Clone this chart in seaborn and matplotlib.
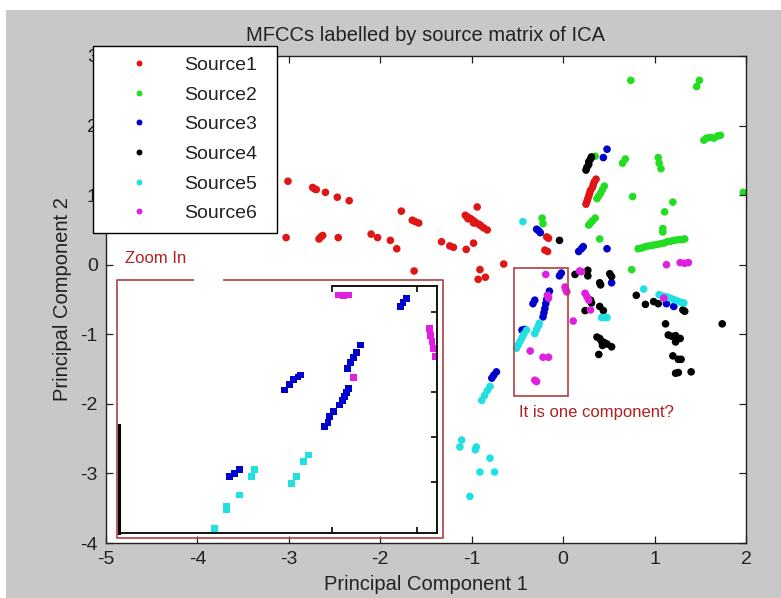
import numpy as np
import pandas as pd
import matplotlib
matplotlib.use("Agg")
import matplotlib.pyplot as plt
from matplotlib.patches import Rectangle
import seaborn as sns

# ---- data: first two principal components of the MFCC frames, grouped by ICA source ----
source_names = ["Source1", "Source2", "Source3", "Source4", "Source5", "Source6"]
source_colors = ["#e01515", "#22dd22", "#0000cc", "#000000", "#22e0e0", "#e020e0"]

source1_pts = [
    (-3.01, 1.20), (-2.74, 1.11), (-2.72, 1.09), (-2.70, 1.08), (-2.60, 1.04), (-2.47, 0.97),
    (-2.34, 0.92), (-1.77, 0.77), (-1.65, 0.64), (-1.62, 0.62), (-1.58, 0.60), (-3.03, 0.39),
    (-2.67, 0.37), (-2.65, 0.40), (-2.63, 0.42), (-2.46, 0.39), (-2.10, 0.44), (-2.03, 0.39),
    (-1.89, 0.35), (-1.82, 0.23), (-1.63, -0.09), (-0.94, 0.83), (-1.07, 0.71), (-1.05, 0.69),
    (-1.03, 0.67), (-1.04, 0.66), (-1.01, 0.66), (-0.99, 0.64), (-0.97, 0.62), (-0.98, 0.60),
    (-0.95, 0.60), (-0.92, 0.58), (-0.90, 0.56), (-0.87, 0.53), (-0.83, 0.50), (-1.33, 0.33),
    (-1.24, 0.27), (-1.20, 0.25), (-0.98, 0.31), (-1.06, 0.22), (-0.65, 0.01), (-0.91, -0.07),
    (-0.93, -0.21), (-0.85, -0.18), (-0.18, 0.40), (-0.16, 0.38), (-0.20, 0.21), (-0.17, 0.19),
    (0.25, 0.87), (0.26, 0.91), (0.27, 0.95), (0.28, 0.99), (0.29, 1.03), (0.30, 1.07),
    (0.32, 1.11), (0.33, 1.15), (0.34, 1.19), (0.36, 1.23),
]
source2_pts = [
    (0.74, 2.65), (1.49, 2.65), (1.46, 2.56), (1.54, 1.79), (1.57, 1.82), (1.61, 1.83),
    (1.65, 1.82), (1.69, 1.85), (1.72, 1.86), (1.97, 1.04), (0.35, 1.56), (0.68, 1.52),
    (0.65, 1.46), (1.04, 1.54), (1.05, 1.46), (1.07, 1.38), (0.37, 0.95), (0.39, 0.99),
    (0.41, 1.03), (0.43, 1.08), (0.45, 1.13), (0.76, 0.98), (1.20, 0.90), (1.11, 0.76),
    (0.28, 0.57), (0.30, 0.60), (0.32, 0.63), (0.35, 0.67), (-0.23, 0.67), (-0.22, 0.59),
    (0.40, 0.37), (1.09, 0.47), (1.09, 0.52), (0.82, 0.23), (0.86, 0.24), (0.90, 0.26),
    (0.94, 0.27), (0.98, 0.28), (1.02, 0.29), (1.06, 0.30), (1.10, 0.31), (1.14, 0.33),
    (1.18, 0.34), (1.22, 0.35), (1.26, 0.36), (1.30, 0.36), (1.33, 0.37), (0.75, -0.07),
]
source3_pts = [
    (0.48, 1.66), (0.44, 1.54), (-0.29, 0.51), (-0.27, 0.49), (-0.25, 0.46), (0.17, 0.19),
    (0.20, 0.23), (0.22, 0.26), (0.48, 0.23), (-0.04, -0.16), (-0.02, -0.12), (-0.22, -0.75),
    (-0.21, -0.69), (-0.20, -0.63), (-0.19, -0.56), (-0.18, -0.50), (-0.17, -0.44),
    (-0.15, -0.38), (-0.31, -0.51), (-0.33, -0.56), (-0.45, -0.94), (-0.42, -0.93),
    (0.53, -0.26), (1.13, -0.56), (1.21, -0.60), (-0.73, -1.54), (-0.76, -1.59), (-0.78, -1.63),
]
source4_pts = [
    (0.25, 1.36), (0.26, 1.40), (0.28, 1.44), (0.28, 1.48), (0.30, 1.52), (0.31, 1.55),
    (-0.04, 0.35), (0.27, -0.08), (0.27, -0.16), (0.13, -0.14), (0.51, -0.13), (0.53, -0.17),
    (0.40, -0.26), (0.41, -0.29), (0.30, -0.51), (0.31, -0.55), (0.24, -0.66), (0.40, -0.60),
    (0.44, -0.66), (0.37, -1.04), (0.40, -1.06), (0.42, -1.10), (0.45, -1.12), (0.48, -1.14),
    (0.53, -1.18), (0.43, -1.16), (0.39, -1.29), (0.80, -0.44), (0.90, -0.57), (0.99, -0.53),
    (1.04, -0.56), (1.31, -0.65), (1.33, -0.67), (1.74, -0.85), (1.12, -0.85), (1.15, -1.01),
    (1.19, -1.03), (1.23, -1.02), (1.28, -1.06), (1.23, -1.11), (1.20, -1.31), (1.26, -1.36),
    (1.29, -1.36), (1.23, -1.56), (1.26, -1.55), (1.40, -1.54),
]
source5_pts = [
    (-0.44, 0.62), (0.88, -0.35), (1.05, -0.43), (1.09, -0.45), (1.13, -0.46), (1.17, -0.48),
    (1.21, -0.50), (1.25, -0.52), (1.29, -0.54), (1.32, -0.55), (0.42, -0.76), (0.45, -0.76),
    (0.48, -0.76), (-0.51, -1.20), (-0.49, -1.15), (-0.47, -1.10), (-0.45, -1.05),
    (-0.43, -1.00), (-0.40, -0.94), (-0.31, -0.99), (-0.29, -0.93), (-0.27, -0.88),
    (-0.26, -0.84), (-0.89, -1.95), (-0.86, -1.88), (-0.83, -1.81), (-0.80, -1.75),
    (-1.11, -2.52), (-1.13, -2.62), (-0.96, -2.66), (-0.95, -2.62), (-0.80, -2.78),
    (-0.91, -2.98), (-0.75, -2.98), (-1.02, -3.33),
]
source6_pts = [
    (1.13, 0.00), (1.28, 0.03), (1.33, 0.02), (1.37, 0.03), (-0.19, -0.14), (0.18, -0.09),
    (0.20, -0.10), (0.02, -0.32), (0.03, -0.36), (0.04, -0.39), (-0.16, -0.48), (-0.17, -0.44),
    (0.24, -0.41), (0.28, -0.51), (0.26, -0.46), (0.30, -0.65), (0.11, -0.81), (-0.36, -1.24),
    (-0.22, -1.33), (-0.16, -1.33), (-0.31, -1.66), (-0.29, -1.68), (1.10, -0.48),
]

# zoomed view of the boxed region
zoom_source3_pts = [
    (-0.001, -0.209), (0.005, -0.180), (0.013, -0.145), (-0.117, -0.683), (-0.110, -0.640),
    (-0.104, -0.600), (-0.097, -0.560), (-0.088, -0.504), (-0.255, -0.850), (-0.245, -0.810),
    (-0.235, -0.770), (-0.226, -0.750), (-0.220, -0.735), (-0.134, -0.965), (-0.128, -0.930),
    (-0.124, -0.900), (-0.120, -0.870), (-0.115, -0.837), (-0.156, -1.055), (-0.148, -1.017),
    (-0.167, -1.132), (-0.160, -1.100), (-0.376, -1.517), (-0.365, -1.490), (-0.354, -1.460),
]
zoom_source5_pts = [
    (-0.203, -1.350), (-0.214, -1.402), (-0.229, -1.517), (-0.240, -1.568), (-0.328, -1.517),
    (-0.321, -1.460), (-0.355, -1.658), (-0.384, -1.773), (-0.383, -1.748), (-0.409, -1.914),
]
zoom_source6_pts = [
    (-0.137, -0.119), (-0.126, -0.120), (-0.115, -0.119), (0.063, -0.375), (0.066, -0.430),
    (0.069, -0.480), (0.072, -0.530), (0.076, -0.594), (-0.104, -0.752),
]


def to_frame(groups):
    rows = []
    for name, pts in groups:
        for x, y in pts:
            rows.append({"pc1": x, "pc2": y, "source": name})
    return pd.DataFrame(rows)


df = to_frame(zip(source_names, [source1_pts, source2_pts, source3_pts,
                                 source4_pts, source5_pts, source6_pts]))
df_zoom = to_frame([("Source3", zoom_source3_pts), ("Source5", zoom_source5_pts),
                    ("Source6", zoom_source6_pts)])
palette = dict(zip(source_names, source_colors))

plt.rcParams["font.family"] = ["Liberation Sans", "DejaVu Sans"]
plt.rcParams["axes.unicode_minus"] = False
text_col = "#222222"
note_col = "#b02020"

W, H = 781, 598
fig = plt.figure(figsize=(W / 100, H / 100), dpi=100, facecolor="white")
fig.patches.append(Rectangle((6 / W, 0), 1, (H - 10) / H, transform=fig.transFigure,
                             facecolor="#c8c8c8", edgecolor="none", zorder=-10))

ax = fig.add_axes([106 / W, 1 - 543 / H, 640 / W, 487 / H])
ax.set_facecolor("white")
sns.scatterplot(data=df, x="pc1", y="pc2", hue="source", hue_order=source_names,
                palette=palette, s=30, linewidth=0, ax=ax, legend=True)

ax.set_xlim(-5, 2)
ax.set_ylim(-4, 3)
ax.set_xticks(range(-5, 3))
ax.set_yticks(range(-4, 4))
ax.tick_params(direction="in", top=True, right=True, length=5, width=0.9,
               color=text_col, labelcolor=text_col, labelsize=14, pad=6)
for sp in ax.spines.values():
    sp.set_linewidth(1.0)
    sp.set_color(text_col)
ax.set_xlabel("Principal Component 1", fontsize=14.5, color=text_col, labelpad=5)
ax.set_ylabel("Principal Component 2", fontsize=14.5, color=text_col, labelpad=6)
ax.set_title("MFCCs labelled by source matrix of ICA", fontsize=14.5, color=text_col, pad=11)

# legend in a plain black box
old = ax.get_legend()
handles = old.legend_handles
labels = [t.get_text() for t in old.get_texts()]
old.remove()
leg = ax.legend(handles, labels, loc="upper left",
                bbox_to_anchor=(93 / W, 1 - 233 / H, 184 / W, 187 / H),
                bbox_transform=fig.transFigure, mode="expand",
                fontsize=14, frameon=True, fancybox=False, framealpha=1,
                borderpad=0.53, labelspacing=0.62, handlelength=3.7,
                handletextpad=0.45, borderaxespad=0, markerscale=0.78)
leg.get_frame().set_edgecolor("black")
leg.get_frame().set_linewidth(1.0)
for t in leg.get_texts():
    t.set_color(text_col)

# annotations
ax.text(-4.79, 0.09, "Zoom In", color=note_col, fontsize=12, ha="left", va="center")
ax.text(-0.48, -2.13, "It is one component?", color=note_col, fontsize=12,
        ha="left", va="center")
ax.add_patch(Rectangle((-0.536, -1.89), 0.591, 1.84, fill=False,
                       edgecolor="#b04040", linewidth=1.2, zorder=4))
ax.plot([-4.048, -4.88, -4.88, -1.313, -1.313, -3.709],
        [-0.221, -0.221, -3.928, -3.928, -0.221, -0.221],
        color="#b04040", linewidth=1.2, clip_on=False, zorder=4)

# zoomed view
ax_in = fig.add_axes([119 / W, 1 - 533 / H, 318 / W, 247 / H], zorder=3)
ax_in.set_facecolor("white")
sns.scatterplot(data=df_zoom, x="pc1", y="pc2", hue="source", palette=palette,
                s=24, linewidth=0, marker="s", ax=ax_in, legend=False)
ax_in.set_xlim(-0.62, 0.08)
ax_in.set_ylim(-1.95, -0.05)
ax_in.set_xlabel("")
ax_in.set_ylabel("")
ax_in.set_xticks([-0.151, 0.036])
ax_in.set_yticks([-1.559, -1.211, -0.865, -0.2495])
ax_in.tick_params(direction="in", top=True, bottom=True, left=False, right=True,
                  labelbottom=False, labelleft=False, length=4, width=1.2, color="black")
ax_in.spines["top"].set_visible(False)
ax_in.spines["left"].set_visible(False)
for side in ("right", "bottom"):
    ax_in.spines[side].set_linewidth(1.3)
    ax_in.spines[side].set_color("black")
ax_in.plot([0.67, 1.0], [1.0, 1.0], transform=ax_in.transAxes, color="black",
           linewidth=1.3, clip_on=False)
ax_in.plot([0.0, 0.0], [0.0, 0.437], transform=ax_in.transAxes, color="black",
           linewidth=2.2, clip_on=False)

fig.savefig("out.png", dpi=100, facecolor=fig.get_facecolor())
